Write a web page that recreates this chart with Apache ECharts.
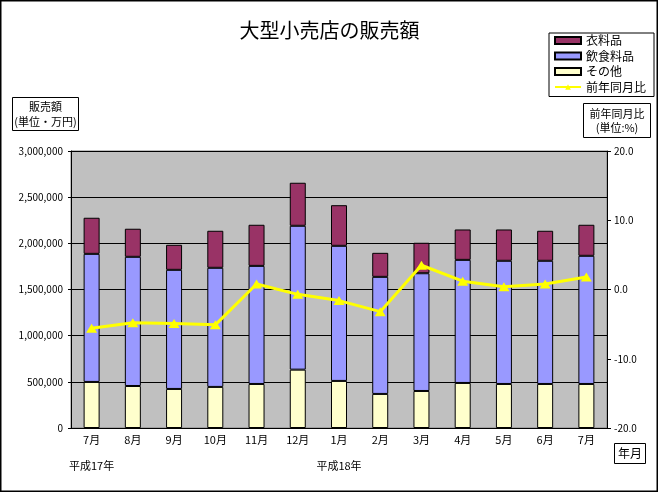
<!DOCTYPE html>
<html><head><meta charset="utf-8">
<script src="https://cdn.jsdelivr.net/npm/echarts@6/dist/echarts.min.js"></script>
<style>html,body{margin:0;padding:0;background:#fff}#c{width:659px;height:493px}</style>
</head><body><div id="c"></div>
<script>
const categories = ['7月','8月','9月','10月','11月','12月','1月','2月','3月','4月','5月','6月','7月'];
const yearLabels = ['平成17年','','','','','','平成18年','','','','','',''];
const other = [499000,455000,423000,445000,477000,632000,510000,369000,401000,488000,477000,477000,477000];
const food = [1387000,1399000,1290000,1290000,1279000,1558000,1463000,1268000,1275000,1333000,1334000,1334000,1388000];
const clothing = [391000,304000,271000,401000,445000,466000,440000,260000,330000,329000,339000,325000,336000];
const yoy = [-5.6,-4.8,-4.9,-5.1,0.8,-0.7,-1.6,-3.2,3.5,1.2,0.4,0.8,1.8];

const FONT = '"Noto Sans CJK JP", sans-serif';
const chart = echarts.init(document.getElementById('c'));
chart.setOption({
  animation: false,
  backgroundColor: '#fff',
  textStyle: {fontFamily: FONT, color: '#000'},
  title: {text: '大型小売店の販売額', left: 'center', top: 15,
    textStyle: {fontFamily: FONT, fontSize: 20, fontWeight: 'normal', color: '#000'}},
  legend: {
    orient: 'vertical', left: 549, top: 33,
    padding: [0, 8, 2, 5], itemGap: 0.5,
    itemWidth: 26, itemHeight: 7,
    borderColor: '#000', borderWidth: 1, backgroundColor: '#fff',
    textStyle: {fontFamily: FONT, fontSize: 12, lineHeight: 15, color: '#000'},
    data: [{name: '衣料品', icon: 'rect'}, {name: '飲食料品', icon: 'rect'},
           {name: 'その他', icon: 'rect'}, {name: '前年同月比'}]
  },
  grid: {left: 71, right: 52, top: 151, bottom: 65, show: true,
    backgroundColor: '#C0C0C0', borderColor: '#808080', borderWidth: 1},
  xAxis: {
    type: 'category', data: categories,
    axisLine: {lineStyle: {color: '#000'}},
    axisTick: {show: false},
    axisLabel: {fontSize: 11, lineHeight: 13, margin: 5, color: '#000', interval: 0,
      formatter: (v, i) => yearLabels[i] ? v + '\n\n' + yearLabels[i] : v}
  },
  yAxis: [{
    type: 'value', min: 0, max: 3000000, interval: 500000,
    axisLine: {show: true, lineStyle: {color: '#000'}},
    axisTick: {show: true, length: 3, lineStyle: {color: '#000'}},
    splitLine: {lineStyle: {color: '#000'}},
    axisLabel: {fontSize: 10, color: '#000', margin: 8,
      formatter: v => v.toLocaleString('en-US')}
  }, {
    type: 'value', min: -20, max: 20, interval: 10, position: 'right',
    axisLine: {show: true, lineStyle: {color: '#000'}},
    axisTick: {show: true, length: 4, lineStyle: {color: '#000'}},
    splitLine: {show: false},
    axisLabel: {fontSize: 10, color: '#000', margin: 7, formatter: v => v.toFixed(1)}
  }],
  series: [
    {name: 'その他', type: 'bar', stack: 's', data: other, barWidth: 16,
      itemStyle: {color: '#FFFFCC', borderColor: '#000', borderWidth: 1}},
    {name: '飲食料品', type: 'bar', stack: 's', data: food, barWidth: 16,
      itemStyle: {color: '#9999FF', borderColor: '#000', borderWidth: 1}},
    {name: '衣料品', type: 'bar', stack: 's', data: clothing, barWidth: 16,
      itemStyle: {color: '#993366', borderColor: '#000', borderWidth: 1}},
    {name: '前年同月比', type: 'line', yAxisIndex: 1, data: yoy, z: 5,
      symbol: 'triangle', symbolSize: [11, 9],
      lineStyle: {color: '#FFFF00', width: 3},
      itemStyle: {color: '#FFFF00'}}
  ],
  graphic: [
    {type: 'rect', z: -1, shape: {x: 0.75, y: 0.75, width: 656.5, height: 490.5},
      style: {fill: 'none', stroke: '#000', lineWidth: 1.5}, silent: true},
    {type: 'rect', shape: {x: 12.5, y: 97.5, width: 66, height: 33},
      style: {fill: '#fff', stroke: '#000', lineWidth: 1}},
    {type: 'text', x: 45.5, y: 114, style: {text: '販売額\n(単位・万円)', font: '11px ' + FONT,
      textAlign: 'center', textVerticalAlign: 'middle', lineHeight: 15, fill: '#000'}},
    {type: 'rect', shape: {x: 583.5, y: 103.5, width: 67, height: 34},
      style: {fill: '#fff', stroke: '#000', lineWidth: 1}},
    {type: 'text', x: 617, y: 120.5, style: {text: '前年同月比\n(単位:%)', font: '11px ' + FONT,
      textAlign: 'center', textVerticalAlign: 'middle', lineHeight: 14, fill: '#000'}},
    {type: 'rect', shape: {x: 614.5, y: 443.5, width: 31, height: 20},
      style: {fill: '#fff', stroke: '#000', lineWidth: 1}},
    {type: 'text', x: 630, y: 453.5, style: {text: '年月', font: '12px ' + FONT,
      textAlign: 'center', textVerticalAlign: 'middle', fill: '#000'}}
  ]
});
</script></body></html>
